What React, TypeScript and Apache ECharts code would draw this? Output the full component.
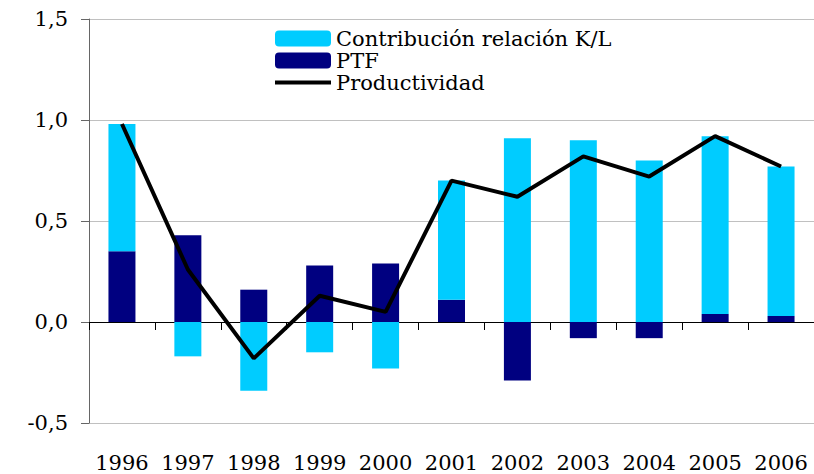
import React, { useEffect, useRef } from "react";
import * as echarts from "echarts";

const years = ["1996", "1997", "1998", "1999", "2000", "2001", "2002", "2003", "2004", "2005", "2006"];
const contribucionKL = [0.63, -0.17, -0.34, -0.15, -0.23, 0.59, 0.91, 0.9, 0.8, 0.88, 0.74];
const ptf = [0.35, 0.43, 0.16, 0.28, 0.29, 0.11, -0.29, -0.08, -0.08, 0.04, 0.03];
const productividad = [0.98, 0.26, -0.18, 0.13, 0.05, 0.7, 0.62, 0.82, 0.72, 0.92, 0.77];

const FONT = "DejaVu Serif";

export default function App() {
  const ref = useRef<HTMLDivElement>(null);
  useEffect(() => {
    if (!ref.current) return;
    const chart = echarts.init(ref.current, undefined, { renderer: "svg" });
    chart.setOption({
      animation: false,
      textStyle: { fontFamily: FONT },
      grid: { left: 89, top: 19, right: 0, bottom: 51, containLabel: false },
      legend: {
        orient: "vertical",
        left: 273,
        top: 28,
        itemWidth: 56,
        itemHeight: 16,
        itemGap: 1,
        padding: 0,
        selectedMode: false,
        textStyle: { fontFamily: FONT, fontSize: 21, color: "#000", lineHeight: 21 },
        data: [
          { name: "Contribución relación K/L" },
          { name: "PTF" },
          { name: "Productividad", itemStyle: { opacity: 0 }, lineStyle: { width: 4, color: "#000" } },
        ],
      },
      xAxis: [
        {
          type: "category",
          data: years,
          axisLine: { onZero: true, lineStyle: { color: "#000", width: 1 } },
          axisTick: { show: true, length: 8, lineStyle: { color: "#000" } },
          axisLabel: { show: false },
          splitLine: { show: false },
        },
        {
          type: "category",
          data: years,
          position: "bottom",
          axisLine: { show: false, onZero: false },
          axisTick: { show: false },
          axisLabel: { show: true, interval: 0, margin: 29, fontFamily: FONT, fontSize: 21, color: "#000" },
          splitLine: { show: false },
        },
      ],
      yAxis: {
        type: "value",
        min: -0.5,
        max: 1.5,
        interval: 0.5,
        axisLine: { show: true, lineStyle: { color: "#666" } },
        axisTick: { show: true, length: 8, lineStyle: { color: "#666" } },
        axisLabel: {
          margin: 21,
          fontFamily: FONT,
          fontSize: 21,
          color: "#000",
          formatter: (v: number) => v.toFixed(1).replace(".", ","),
        },
        splitLine: { show: true, lineStyle: { color: "#c0c0c0", width: 1 } },
      },
      series: [
        {
          name: "PTF",
          type: "bar",
          stack: "total",
          barWidth: 27,
          data: ptf,
          itemStyle: { color: "#000080" },
        },
        {
          name: "Contribución relación K/L",
          type: "bar",
          stack: "total",
          barWidth: 27,
          data: contribucionKL,
          itemStyle: { color: "#00CCFF" },
        },
        {
          name: "Productividad",
          type: "line",
          data: productividad,
          symbol: "none",
          showSymbol: false,
          lineStyle: { color: "#000", width: 4 },
          itemStyle: { color: "#000" },
        },
      ],
    });
    return () => chart.dispose();
  }, []);
  return (
    <div
      ref={ref}
      style={{ position: "fixed", left: 0, top: 0, width: 814, height: 474, background: "#fff" }}
    />
  );
}
